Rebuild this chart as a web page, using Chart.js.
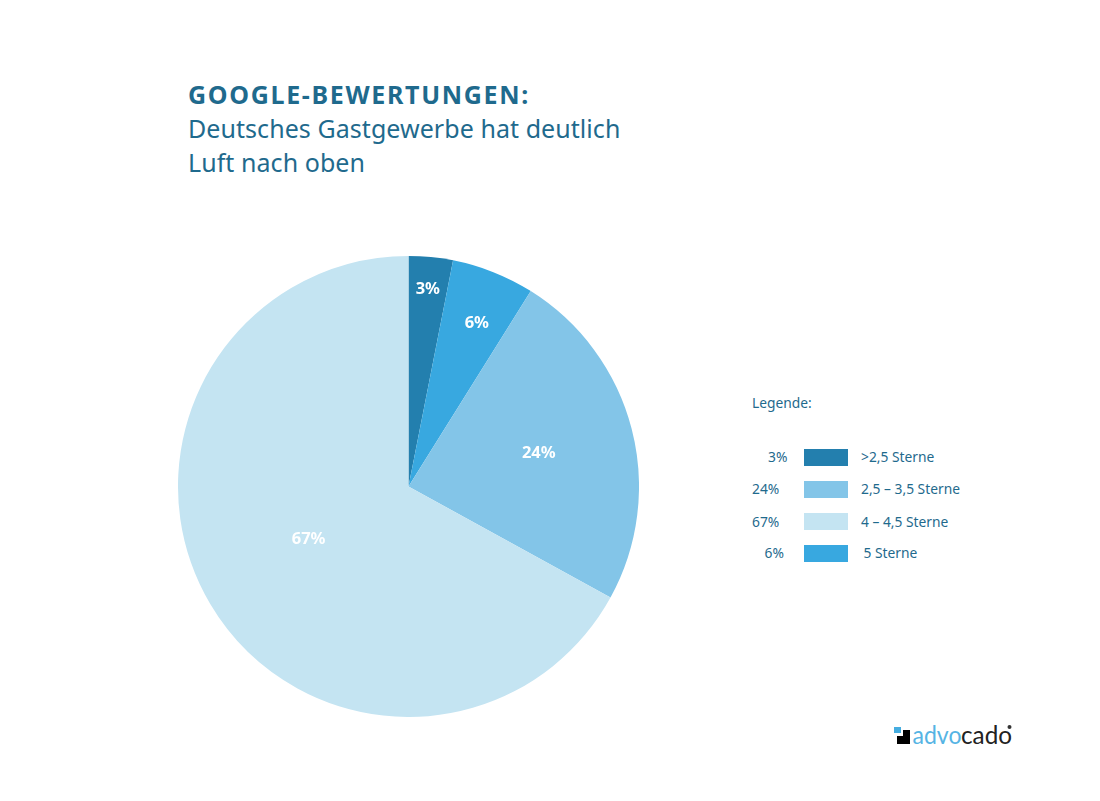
<!DOCTYPE html>
<html lang="de">
<head>
<meta charset="utf-8">
<script src="https://cdn.jsdelivr.net/npm/chart.js@4"></script>
<style>
html,body{margin:0;padding:0;background:#fff;width:1100px;height:801px;overflow:hidden}
body{position:relative;font-family:"Noto Sans",sans-serif;color:#1f6a8d}
.t{position:absolute;white-space:nowrap;line-height:1}
#wrap{position:absolute;left:178px;top:256px;width:461px;height:461px}
.sw{position:absolute;left:804px;width:44px;height:17px}
</style>
</head>
<body>
<div class="t" style="left:188px;top:82px;font-size:25px;font-weight:700;letter-spacing:1.68px">GOOGLE-BEWERTUNGEN:</div>
<div class="t" style="left:188px;top:115.5px;font-size:25px;letter-spacing:.06px">Deutsches Gastgewerbe hat deutlich</div>
<div class="t" style="left:188px;top:149.5px;font-size:25px;letter-spacing:.06px">Luft nach oben</div>
<div id="wrap"><canvas id="c" width="461" height="461"></canvas></div>
<div class="t" style="left:752px;top:396px;font-size:13.8px">Legende:</div>
<div id="legend"></div>
<svg style="position:absolute;left:890px;top:720px" width="130" height="30" viewBox="0 0 130 30">
  <rect x="4" y="7" width="7" height="6" fill="#45ade0"/>
  <path d="M7 24V16H13V10H20V24Z" fill="#000"/>
  <text x="22.5" y="24" font-family="Lato,sans-serif" font-size="24.5" textLength="49" lengthAdjust="spacingAndGlyphs" fill="#56b4e4">advo</text>
  <text x="71" y="24" font-family="Lato,sans-serif" font-size="24.5" textLength="51" lengthAdjust="spacingAndGlyphs" fill="#222">cado</text>
  <circle cx="119.5" cy="7" r="2" fill="#333"/>
</svg>
<script>
const categories = [">2,5 Sterne", "2,5 – 3,5 Sterne", "4 – 4,5 Sterne", "5 Sterne"];
const legendValues = [3, 24, 67, 6];
const legendColors = ["#237fae", "#83c5e8", "#c4e4f2", "#38a8e0"];

const sliceNames = [">2,5 Sterne", "5 Sterne", "2,5 – 3,5 Sterne", "4 – 4,5 Sterne"];
const sliceValues = [3.1, 5.8, 24.1, 67];
const sliceColors = ["#237fae", "#38a8e0", "#83c5e8", "#c4e4f2"];
const labelRadius = [0.863, 0.771, 0.584, 0.489];
const labelAngleShift = [0, 1, 0, 3];

const legendTextX = [861, 861, 861, 863.5];
const legendPctX = [768, 752, 752, 764.5];
const legendRowY = [457, 489, 522, 553];
const swatchTop = [449, 481, 513, 545];

const legend = document.getElementById("legend");
categories.forEach((name, i) => {
  const pct = document.createElement("div");
  pct.className = "t"; pct.style.cssText = `left:${legendPctX[i]}px;top:${legendRowY[i]-7}px;font-size:13.8px`;
  pct.textContent = legendValues[i] + "%";
  const sw = document.createElement("div");
  sw.className = "sw"; sw.style.top = swatchTop[i] + "px"; sw.style.background = legendColors[i];
  const txt = document.createElement("div");
  txt.className = "t"; txt.style.cssText = `left:${legendTextX[i]}px;top:${legendRowY[i]-7}px;font-size:13.8px`;
  txt.textContent = name;
  legend.append(pct, sw, txt);
});

const sliceLabels = {
  id: "sliceLabels",
  afterDatasetsDraw(chart) {
    const { ctx } = chart;
    ctx.save();
    ctx.fillStyle = "#fff";
    ctx.font = '700 16.5px "Noto Sans", sans-serif';
    ctx.textAlign = "center";
    ctx.textBaseline = "middle";
    chart.getDatasetMeta(0).data.forEach((arc, i) => {
      const a = (arc.startAngle + arc.endAngle) / 2 + labelAngleShift[i] * Math.PI / 180;
      const r = arc.outerRadius * labelRadius[i];
      ctx.fillText(Math.round(sliceValues[i]) + "%", arc.x + Math.cos(a) * r, arc.y + Math.sin(a) * r + 1);
    });
    ctx.restore();
  }
};

new Chart(document.getElementById("c"), {
  type: "pie",
  data: {
    labels: sliceNames,
    datasets: [{ data: sliceValues, backgroundColor: sliceColors, borderWidth: 0 }]
  },
  options: {
    responsive: false,
    animation: false,
    layout: { padding: 0 },
    plugins: { legend: { display: false }, tooltip: { enabled: false } }
  },
  plugins: [sliceLabels]
});
</script>
</body>
</html>
